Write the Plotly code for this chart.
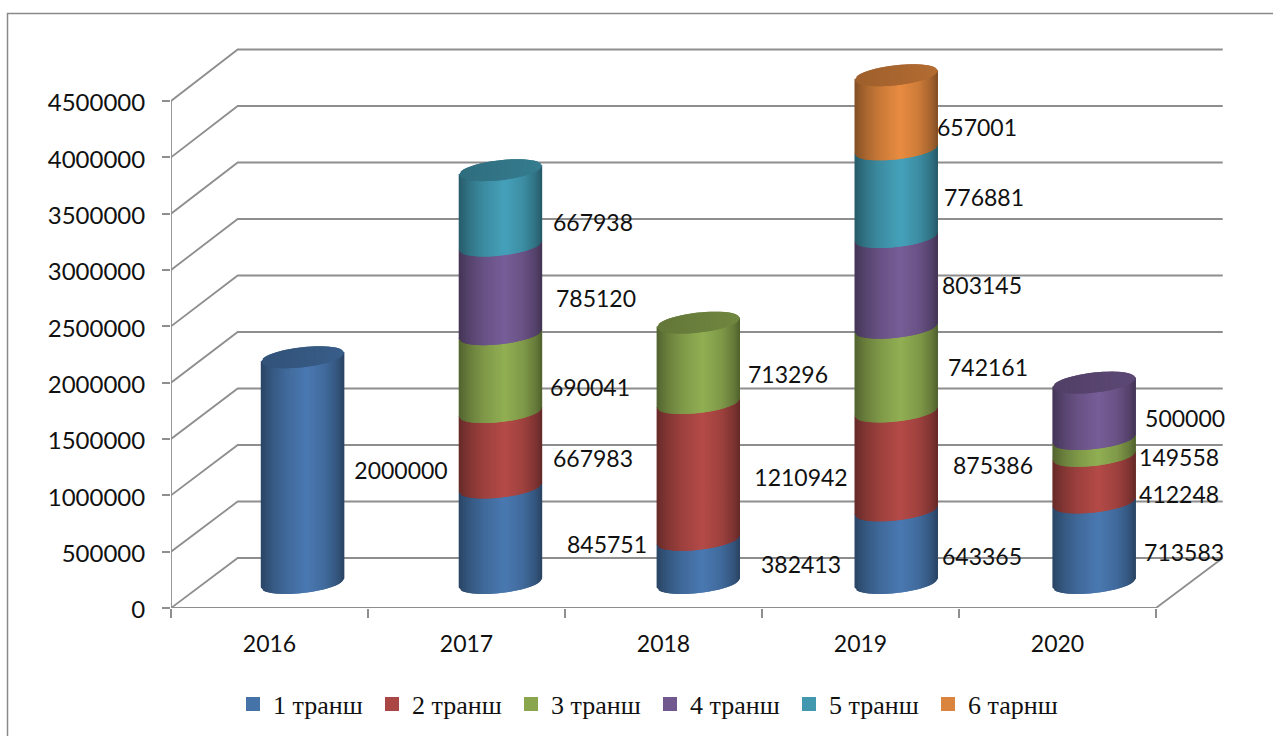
import plotly.graph_objects as go

# Chart data
years = ["2016", "2017", "2018", "2019", "2020"]
tranche_1 = [2000000, 845751, 382413, 643365, 713583]
tranche_2 = [0, 667983, 1210942, 875386, 412248]
tranche_3 = [0, 690041, 713296, 742161, 149558]
tranche_4 = [0, 785120, 0, 803145, 500000]
tranche_5 = [0, 667938, 0, 776881, 0]
tranche_6 = [0, 0, 0, 657001, 0]
series_names = ["1 транш", "2 транш", "3 транш", "4 транш", "5 транш", "6 тарнш"]
series_values = [tranche_1, tranche_2, tranche_3, tranche_4, tranche_5, tranche_6]
y_ticks = [0, 500000, 1000000, 1500000, 2000000, 2500000, 3000000, 3500000, 4000000, 4500000]

# Styling
series_colors = ["#4572A7", "#AA4643", "#89A54E", "#71588F", "#4198AF", "#DB843D"]
GRID = "#8E8E8E"
TEXT_FONT = "Lato"
LEGEND_FONT = "Liberation Serif"

# Plot area in pixels, and the scales that follow from it
AREA_LEFT, AREA_RIGHT, AREA_TOP, AREA_BOTTOM = 171, 1226, 45, 608
PX_PER_CATEGORY = 197.0
PX_PER_VALUE = 507 / 4500000

# Oblique projection of the chart box: how far the back wall sits from the front
WALL_DX = 66.7 / PX_PER_CATEGORY
WALL_DY = 50 / PX_PER_VALUE
WALL_SCALE = 1.003

# Cylinder geometry in axis units
CENTER_START = 131.5 / PX_PER_CATEGORY
CENTER_STEP = 197.9 / PX_PER_CATEGORY
BASE_LIFT = 25 / PX_PER_VALUE
HEIGHT_SCALE = 1.002
RADIUS_X = 41.7 / PX_PER_CATEGORY
RADIUS_Y = 10.0 / PX_PER_VALUE
TILT = 4.5 / PX_PER_VALUE
STRIPS = 40
SEAM_OVERLAP = 0.6 / PX_PER_VALUE
LABEL_DROP = 3.5

# Label offsets from each segment's midpoint on the cylinder axis, in pixels (dx, dy down)
label_offsets = [
    [(98.5, 0), (106.6, 8), (102.7, 2), (85.8, 9.5), (90, 9.4)],
    [None, (92.6, 8), (102.7, 5), (96.8, 3.5), (85, 15)],
    [None, (89.6, 14), (89.7, 11), (91.8, -3), (85, 9)],
    [None, (95.6, 8), None, (85.8, 2), (91, 7)],
    [None, (92.6, 14), None, (87.8, 4), None],
    [None, None, None, (80.8, 14.6), None],
]


def shade(hex_color, factor):
    r, g, b = (int(hex_color[i:i + 2], 16) for i in (1, 3, 5))
    return "rgb({},{},{})".format(*(min(255, round(c * factor)) for c in (r, g, b)))


def side_brightness(t):
    # Piecewise shading across the cylinder, t runs from -1 (left) to 1 (right)
    stops = [(-1, 0.60), (-0.75, 0.76), (-0.4, 0.92), (0.1, 1.06), (0.55, 0.93), (0.85, 0.74), (1, 0.58)]
    for (t0, b0), (t1, b1) in zip(stops, stops[1:]):
        if t <= t1:
            return b0 + (b1 - b0) * (t - t0) / (t1 - t0)
    return stops[-1][1]


def front_edge(center, level, t):
    # Point on the front half of the ellipse at a given height
    return (center + t * RADIUS_X,
            level + t * TILT - RADIUS_Y * (1 - t * t) ** 0.5)


def back_edge(center, level, t):
    return (center + t * RADIUS_X,
            level + t * TILT + RADIUS_Y * (1 - t * t) ** 0.5)


fig = go.Figure()


def add_lines(xs, ys):
    fig.add_trace(go.Scatter(x=xs, y=ys, mode="lines", cliponaxis=False, showlegend=False,
                             hoverinfo="skip", line=dict(color=GRID, width=1.8)))


def add_fill(xs, ys, color):
    fig.add_trace(go.Scatter(x=xs, y=ys, mode="none", fill="toself", fillcolor=color,
                             showlegend=False, hoverinfo="skip"))


# Walls and floor of the chart box
right_x = len(years)
wall_x, wall_y = [], []
for tick in y_ticks:
    back = tick * WALL_SCALE + WALL_DY
    wall_x += [0, WALL_DX, right_x + WALL_DX, None]
    wall_y += [tick, back, back, None]
add_lines(wall_x, wall_y)
add_lines([0, 0], [0, y_ticks[-1]])
add_lines([0, right_x, right_x + WALL_DX], [0, 0, WALL_DY])

# Side surface of every stacked segment, one trace per series and shading strip.
# Strips run left to right and each one overlaps its right neighbour, hiding the joins.
centers = [CENTER_START + i * CENTER_STEP for i in range(len(years))]
strip_edges = [-1 + 2 * k / STRIPS for k in range(STRIPS + 1)]


def strip_span(k):
    return strip_edges[k], strip_edges[min(k + 2, STRIPS)]


for s, values in enumerate(series_values):
    for k in range(STRIPS):
        t0, t1 = strip_span(k)
        xs, ys = [], []
        for i, center in enumerate(centers):
            if not values[i]:
                continue
            below = sum(series_values[p][i] for p in range(s))
            low = BASE_LIFT + below * HEIGHT_SCALE
            high = low + values[i] * HEIGHT_SCALE + SEAM_OVERLAP
            corners = [front_edge(center, low, t0), front_edge(center, low, t1),
                       front_edge(center, high, t1), front_edge(center, high, t0)]
            xs += [c[0] for c in corners] + [corners[0][0], None]
            ys += [c[1] for c in corners] + [corners[0][1], None]
        if xs:
            t_mid = (strip_edges[k] + strip_edges[k + 1]) / 2
            add_fill(xs, ys, shade(series_colors[s], side_brightness(t_mid)))

# Top cap of each cylinder, in a darker tone of its uppermost series
for i, center in enumerate(centers):
    top_series = max(s for s in range(len(series_values)) if series_values[s][i])
    level = BASE_LIFT + sum(v[i] for v in series_values) * HEIGHT_SCALE
    for k in range(STRIPS):
        t0, t1 = strip_span(k)
        corners = [front_edge(center, level, t0), front_edge(center, level, t1),
                   back_edge(center, level, t1), back_edge(center, level, t0)]
        t_mid = (strip_edges[k] + strip_edges[k + 1]) / 2
        add_fill([c[0] for c in corners] + [corners[0][0]],
                 [c[1] for c in corners] + [corners[0][1]],
                 shade(series_colors[top_series], 0.77 + 0.05 * t_mid))

# Value labels beside each segment
label_x, label_y, label_text = [], [], []
for s, values in enumerate(series_values):
    for i, center in enumerate(centers):
        if not values[i]:
            continue
        below = sum(series_values[p][i] for p in range(s))
        mid = BASE_LIFT + (below + values[i] / 2) * HEIGHT_SCALE
        dx, dy = label_offsets[s][i]
        label_x.append(center + dx / PX_PER_CATEGORY)
        label_y.append(mid - (dy + LABEL_DROP) / PX_PER_VALUE)
        label_text.append(str(values[i]))
fig.add_trace(go.Scatter(x=label_x, y=label_y, text=label_text, mode="text", cliponaxis=False,
                         textposition="middle center", showlegend=False, hoverinfo="skip",
                         textfont=dict(family=TEXT_FONT, size=23, color="#111111")))

# Legend entries
for name, color in zip(series_names, series_colors):
    fig.add_trace(go.Scatter(x=[None], y=[None], mode="markers", name=name,
                             marker=dict(symbol="square", size=14, color=color)))

area_w = AREA_RIGHT - AREA_LEFT
area_h = AREA_BOTTOM - AREA_TOP

fig.update_layout(
    width=1273, height=736, autosize=False,
    paper_bgcolor="white", plot_bgcolor="rgba(0,0,0,0)",
    margin=dict(l=AREA_LEFT, r=1273 - AREA_RIGHT, t=AREA_TOP, b=736 - AREA_BOTTOM, pad=0,
                autoexpand=False),
    xaxis=dict(
        range=[0, area_w / PX_PER_CATEGORY],
        tickmode="array", tickvals=[i + 0.5 for i in range(len(years))], ticktext=years,
        ticks="", showgrid=False, zeroline=False, showline=False,
        ticklabelstandoff=20,
        tickfont=dict(family=TEXT_FONT, size=23, color="#111111"),
        minor=dict(tickmode="array", tickvals=list(range(len(years) + 1)), ticks="outside",
                   ticklen=9, tickwidth=1.8, tickcolor=GRID, showgrid=False),
    ),
    yaxis=dict(
        range=[0, area_h / PX_PER_VALUE],
        tickmode="array", tickvals=y_ticks, ticktext=[str(v) for v in y_ticks],
        ticks="outside", ticklen=8, tickwidth=1.8, tickcolor=GRID,
        showgrid=False, zeroline=False, showline=False,
        ticklabelstandoff=12, ticklabelshift=2,
        tickfont=dict(family=TEXT_FONT, size=24, color="#111111"),
    ),
    legend=dict(
        orientation="h", xanchor="left", yanchor="middle",
        x=(233 - AREA_LEFT) / area_w,
        y=-(704 - AREA_BOTTOM) / area_h,
        entrywidth=94, entrywidthmode="pixels", itemclick=False, itemdoubleclick=False,
        font=dict(family=LEGEND_FONT, size=26, color="#111111"),
        bgcolor="rgba(0,0,0,0)",
    ),
    # Frame of the chart; only its top and left edges fall inside the page
    shapes=[dict(type="rect", xref="paper", yref="paper", layer="below",
                 x0=(7.5 - AREA_LEFT) / area_w,
                 x1=(1300 - AREA_LEFT) / area_w,
                 y0=-(760 - AREA_BOTTOM) / area_h,
                 y1=(AREA_BOTTOM - 13.5) / area_h,
                 line=dict(color="#8A8A8A", width=1.5))],
)

fig.write_html("out.html", config={"displayModeBar": False})
